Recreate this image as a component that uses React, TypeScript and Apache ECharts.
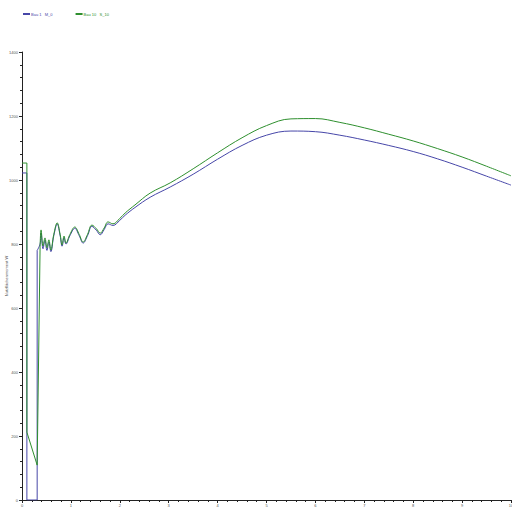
import React, { useEffect, useRef } from "react";
import * as echarts from "echarts";

const seriesNames = ["Bau 1   M_0", "Bau 10   S_10"];
const yAxisTitle = "Nutzflächenmoment W";

// Series 1 (blue): start step and smooth curve
const blueStart: [number, number][] = [
  [0, 1022], [0.1, 1022], [0.1, 0], [0.31, 0], [0.31, 780],
];
const blueCurve: [number, number][] = [
  [0.31, 780], [0.37, 800], [0.39, 835], [0.43, 785], [0.47, 812], [0.51, 780],
  [0.55, 806], [0.59, 776], [0.65, 826], [0.72, 862], [0.78, 826], [0.82, 793],
  [0.86, 820], [0.9, 800], [0.98, 826], [1.08, 849], [1.17, 826], [1.25, 803],
  [1.34, 826], [1.43, 855], [1.52, 843], [1.6, 829], [1.68, 845], [1.76, 863],
  [1.86, 858], [2.0, 874], [2.11, 890], [2.31, 914], [2.62, 946], [3.03, 978],
  [3.5, 1018], [4.0, 1065], [4.5, 1108], [5.0, 1140], [5.5, 1153], [6.0, 1151],
  [6.5, 1140], [7.0, 1125], [7.5, 1108], [8.0, 1089], [8.5, 1066], [9.0, 1040],
  [9.5, 1012], [10, 984],
];

// Series 2 (green): start step and smooth curve
const greenStart: [number, number][] = [
  [0, 1053], [0.1, 1053], [0.1, 212], [0.31, 109], [0.37, 790],
];
const greenCurve: [number, number][] = [
  [0.37, 790], [0.39, 844], [0.43, 794], [0.47, 819], [0.51, 788], [0.55, 813],
  [0.59, 781], [0.65, 830], [0.72, 866], [0.78, 830], [0.82, 797], [0.86, 825],
  [0.9, 803], [0.98, 830], [1.08, 853], [1.17, 830], [1.25, 806], [1.34, 830],
  [1.43, 859], [1.52, 848], [1.6, 834], [1.68, 850], [1.76, 869], [1.86, 863],
  [2.0, 880], [2.11, 897], [2.31, 922], [2.62, 959], [3.03, 991], [3.5, 1035],
  [4.0, 1085], [4.5, 1132], [5.0, 1170], [5.5, 1191], [6.0, 1192], [6.5, 1180],
  [7.0, 1163], [7.5, 1143], [8.0, 1122], [8.5, 1098], [9.0, 1072], [9.5, 1043],
  [10, 1013],
];

const BLUE = "#4646a8";
const GREEN = "#2e8f2e";

export default function App() {
  const ref = useRef<HTMLDivElement>(null);
  useEffect(() => {
    if (!ref.current) return;
    const chart = echarts.init(ref.current, null, { renderer: "svg" });
    const axisCommon = {
      axisLine: { show: true, lineStyle: { color: "#222", width: 1 } },
      axisTick: { show: true, length: 3, lineStyle: { color: "#222" } },
      minorTick: { show: true, splitNumber: 5, length: 2, lineStyle: { color: "#222" } },
      splitLine: { show: false },
      minorSplitLine: { show: false },
    };
    chart.setOption({
      animation: false,
      backgroundColor: "#ffffff",
      legend: {
        left: 23,
        top: 12,
        padding: 0,
        itemWidth: 7,
        itemHeight: 2,
        itemGap: 23,
        icon: "rect",
        data: [
          { name: seriesNames[0], textStyle: { color: BLUE } },
          { name: seriesNames[1], textStyle: { color: GREEN } },
        ],
        textStyle: { fontSize: 4, fontFamily: "Liberation Sans", padding: [0, 0, 0, -4] },
      },
      grid: { left: 22, right: 1, top: 52, bottom: 11, containLabel: false, outerBoundsMode: "none" },
      xAxis: {
        type: "value",
        min: 0,
        max: 10,
        interval: 1,
        ...axisCommon,
        axisLabel: { fontSize: 4, color: "#555", margin: 3, fontFamily: "Liberation Sans" },
      },
      yAxis: {
        type: "value",
        min: 0,
        max: 1400,
        interval: 200,
        name: yAxisTitle,
        nameLocation: "middle",
        nameGap: 14,
        nameMoveOverlap: false,
        nameTextStyle: { fontSize: 4, color: "#555", fontFamily: "Liberation Sans" },
        ...axisCommon,
        axisLabel: {
          fontSize: 4, color: "#555", margin: 4, fontFamily: "Liberation Sans",
          formatter: (v: number) => String(v),
        },
      },
      series: [
        {
          name: seriesNames[0], type: "line", data: blueStart, showSymbol: false,
          lineStyle: { color: BLUE, width: 1 }, itemStyle: { color: BLUE }, z: 2,
        },
        {
          name: seriesNames[0], type: "line", data: blueCurve, showSymbol: false, smooth: 0.4,
          lineStyle: { color: BLUE, width: 1 }, itemStyle: { color: BLUE }, z: 2,
        },
        {
          name: seriesNames[1], type: "line", data: greenStart, showSymbol: false,
          lineStyle: { color: GREEN, width: 1 }, itemStyle: { color: GREEN }, z: 3,
        },
        {
          name: seriesNames[1], type: "line", data: greenCurve, showSymbol: false, smooth: 0.4,
          lineStyle: { color: GREEN, width: 1 }, itemStyle: { color: GREEN }, z: 3,
        },
      ],
    });
    return () => chart.dispose();
  }, []);
  return (
    <div
      ref={ref}
      style={{ position: "fixed", left: 0, top: 0, width: 512, height: 511, background: "#fff" }}
    />
  );
}
